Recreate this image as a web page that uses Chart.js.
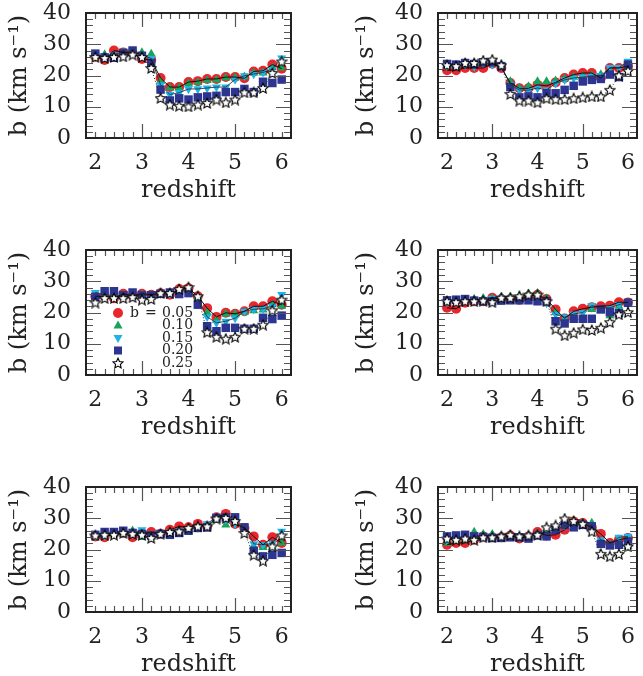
<!DOCTYPE html>
<html>
<head>
<meta charset="utf-8">
<script src="https://cdn.jsdelivr.net/npm/chart.js@4.4.1/dist/chart.umd.min.js"></script>
<style>
  body { margin: 0; background: #fff; width: 643px; height: 676px; position: relative; overflow: hidden; }
  canvas { position: absolute; }
</style>
</head>
<body>
<canvas id="p1" width="300" height="208" style="left:0px;top:0px"></canvas>
<canvas id="p2" width="296" height="208" style="left:347px;top:0px"></canvas>
<canvas id="p3" width="300" height="208" style="left:0px;top:237px"></canvas>
<canvas id="p4" width="296" height="208" style="left:347px;top:237px"></canvas>
<canvas id="p5" width="300" height="208" style="left:0px;top:474px"></canvas>
<canvas id="p6" width="296" height="208" style="left:347px;top:474px"></canvas>
<script>
// redshift bins shared by every panel
const redshift = [2.0, 2.2, 2.4, 2.6, 2.8, 3.0, 3.2, 3.4, 3.6, 3.8, 4.0, 4.2, 4.4, 4.6, 4.8, 5.0, 5.2, 5.4, 5.6, 5.8, 6.0]
const xTicks = [2, 3, 4, 5, 6]
const yTicks = [0, 10, 20, 30, 40]
const bValues = ['0.05', '0.10', '0.15', '0.20', '0.25']

// panel 1 (top left)
const p1_b05 = [26, 25, 28, 27.4, 27.2, 25.3, 25, 19.2, 16.3, 16.3, 17.9, 18.2, 18.9, 18.9, 19.5, 19.5, 19.1, 21.3, 21.5, 23.5, 22.2]
const p1_b10 = [26.3, 26.7, 26.5, 27, 27, 27.4, 26.9, 18.1, 16, 16, 17.4, 17.8, 18.4, 18.6, 19.2, 19.3, 19.6, 20.8, 20.8, 22.5, 22.4]
const p1_b15 = [26.5, 26, 26.5, 27.7, 27.8, 26.5, 25.5, 17, 13.9, 14.5, 15.7, 15.7, 16, 16.3, 16.3, 18.7, 19.9, 20.5, 21, 22, 25.6]
const p1_b20 = [27, 25.8, 25.7, 27.2, 28, 26.3, 24, 15.5, 12, 12.7, 12.3, 13, 13.3, 13.5, 14.7, 14.7, 15.7, 14.7, 18, 17.6, 18.7]
const p1_b25 = [25.9, 25.6, 25.9, 26.1, 26.7, 25.9, 22.4, 12.8, 10.7, 10.3, 10.1, 10.7, 11.2, 12.3, 11.4, 12.3, 14.6, 14.6, 16, 20.8, 24.5]

// panel 2 (top right)
const p2_b05 = [21.7, 21.7, 22.4, 22.4, 22.4, 23.8, 22.4, 17.6, 15.9, 15.9, 17, 16.7, 17.8, 19.2, 20.3, 20.8, 20.8, 19.2, 22.4, 22.4, 23]
const p2_b10 = [23.3, 23, 23.6, 23.6, 24.5, 24.2, 23.5, 18.1, 16, 16.5, 18.1, 18.1, 18.3, 19, 19.5, 19.8, 20, 20.3, 21.5, 19.5, 22]
const p2_b15 = [23, 23, 23.4, 22.8, 24, 23.5, 23, 17, 15.4, 15.3, 16, 15.4, 17.5, 18.6, 19.2, 19.5, 19.8, 20, 22.5, 22.5, 24.5]
const p2_b20 = [23.7, 23.5, 24, 23.7, 24.2, 24.2, 23, 16.3, 13, 13.3, 13, 14.3, 14.3, 15.4, 16.7, 18.1, 18.6, 18.9, 20.3, 19.5, 23.5]
const p2_b25 = [23.3, 23, 24, 24, 24.8, 25.1, 23.3, 14.1, 12, 12, 11.4, 12.7, 12.4, 12.4, 12.7, 13, 13.3, 13.3, 15.4, 20, 21.5]

// panel 3 (middle left, with legend)
const p3_b05 = [25.2, 25.2, 24.6, 26, 25.4, 26, 25.7, 26.2, 25.7, 27.5, 27.8, 25.2, 21.4, 18.6, 19.9, 19.6, 20.4, 22, 22, 23.6, 22.5]
const p3_b10 = [25.5, 25.5, 25, 25.5, 25.6, 25.8, 25.5, 26, 26, 27, 27.5, 25, 20, 17.5, 19.5, 19.5, 20, 20.6, 20.8, 22.5, 22]
const p3_b15 = [26.4, 25.5, 25.5, 25.2, 25.5, 25.6, 25.5, 26, 26, 27, 27.3, 24.5, 18.6, 16.7, 17.2, 18.2, 20.4, 21, 21.2, 22, 25.7]
const p3_b20 = [25, 26.8, 26.8, 25.5, 26.4, 25.5, 25.5, 26, 26.4, 25.9, 26.2, 22.5, 15.6, 14, 15.1, 15.1, 14.8, 14.8, 18.3, 17.9, 19]
const p3_b25 = [23.2, 24.6, 24.6, 24.6, 24.9, 24.1, 24.3, 26.2, 26.2, 27.5, 28.1, 25.2, 13.7, 12.2, 11.6, 12.2, 14.8, 14.8, 16.1, 20.7, 24.1]

// panel 4 (middle right)
const p4_b05 = [21.5, 21.2, 23.1, 23.6, 23.6, 24.7, 24.3, 24.3, 24.1, 25.2, 25.7, 24.3, 21, 18.1, 20.4, 21.2, 21.7, 22, 22.2, 23.3, 23.2]
const p4_b10 = [23.5, 23.8, 24, 24.3, 24.6, 24.5, 25, 25, 25.4, 26, 26.2, 24.5, 20, 18, 18.5, 18.5, 21, 20.6, 19, 22, 23]
const p4_b15 = [23.5, 23.5, 24, 24, 24, 24.5, 24.5, 24.5, 24.8, 24.8, 25, 23, 19.4, 18.5, 19.5, 20, 22.2, 21.5, 21.5, 22.5, 23.3]
const p4_b20 = [23.9, 24.1, 24.3, 23.8, 23.6, 23.6, 23.8, 23.9, 23.9, 23.9, 23.6, 23.6, 17.2, 16.5, 18, 18, 18, 21, 20.1, 19.8, 23.1]
const p4_b25 = [23.6, 23.3, 23.6, 23.6, 23.8, 23.3, 24.7, 24.7, 25.2, 25.7, 25.7, 23.6, 14.8, 12.7, 13.5, 14.6, 14.4, 15.1, 16.9, 19.4, 20.1]

// panel 5 (bottom left)
const p5_b05 = [24.2, 23.9, 25, 25.3, 23.9, 25, 25.6, 25, 26.3, 27.4, 27.1, 28.2, 27.4, 30.3, 31.4, 28.2, 26.9, 24.2, 21.5, 23.9, 22.1]
const p5_b10 = [24.5, 24.5, 24.8, 25, 26, 23.9, 24.5, 25, 25.5, 26, 26.5, 26.4, 27, 29.3, 27.9, 28.5, 26.5, 21, 20.7, 20.7, 22.1]
const p5_b15 = [24.5, 24.5, 25, 25.3, 25, 26.3, 25, 25, 25.5, 26, 26.5, 27, 28.2, 30.6, 29.5, 28.2, 27.4, 21.8, 21.5, 22, 25.8]
const p5_b20 = [24.7, 25.6, 25.6, 26, 25.3, 25, 24.5, 25, 24.7, 25.3, 26, 26.9, 27.1, 30.1, 30.3, 30.3, 27.1, 19.6, 17.8, 18.3, 18.9]
const p5_b25 = [24.5, 24.7, 24.7, 25.3, 25, 24.7, 23.7, 25, 25.6, 25.8, 26.9, 27.4, 27.4, 29.9, 30.1, 29.1, 25.3, 18.3, 16.4, 21, 24.5]

// panel 6 (bottom right)
const p6_b05 = [21.5, 22.1, 22.1, 23.1, 24.2, 23.9, 23.9, 24.5, 23.5, 24.2, 25.6, 24.5, 24.7, 26.3, 29, 28.5, 27, 25, 22.1, 23.1, 23.7]
const p6_b10 = [22, 23, 23.5, 25.6, 24.9, 24.9, 24.3, 24.4, 24.2, 24.5, 25, 26, 27.4, 27.5, 29.2, 28.5, 28.5, 22.5, 21.5, 22.5, 21]
const p6_b15 = [23, 23.3, 23.5, 23.8, 24.2, 24.2, 24, 24.2, 24, 24.3, 25, 25.5, 26.5, 27.5, 28.3, 28, 27.6, 23.1, 21.8, 23.9, 24.2]
const p6_b20 = [24.2, 24.5, 24.7, 24.2, 24, 23.7, 23.7, 23.9, 23.9, 23.5, 24.5, 24.2, 26.3, 27.9, 27.1, 27.9, 27.4, 21.8, 21.3, 21.5, 22.6]
const p6_b25 = [23.5, 23.1, 23.5, 23.1, 23.9, 23.9, 24.2, 24.7, 24.2, 24.5, 24.7, 27.1, 27.7, 29.9, 29.1, 28.2, 25.8, 18.6, 17.8, 18.6, 21]

const RED = '#e8262b'
const GREEN = '#17a35a'
const CYAN = '#1db4e8'
const NAVY = '#2c3590'
const FONT = 'DejaVu Serif'

// white five pointed star with a black edge, used as point image
function makeStar(size) {
  const c = document.createElement('canvas')
  c.width = size; c.height = size
  const g = c.getContext('2d')
  const m = size / 2
  g.beginPath()
  for (let i = 0; i < 10; i++) {
    const r = i % 2 ? m * 0.42 : m - 0.7
    const a = -Math.PI / 2 + i * Math.PI / 5
    g.lineTo(m + r * Math.cos(a), m + 0.6 + r * Math.sin(a))
  }
  g.closePath()
  g.fillStyle = '#fff'; g.fill()
  g.strokeStyle = '#000'; g.lineWidth = 1.15; g.stroke()
  return c
}
const starImg = makeStar(12)

function pts(values) {
  return values.map((v, i) => ({ x: redshift[i], y: v }))
}

// frame with inward ticks on all four sides
const framePlugin = {
  id: 'frame',
  afterDatasetsDraw(chart) {
    const { ctx, chartArea: a, scales: { x, y } } = chart
    ctx.save()
    ctx.strokeStyle = '#555'
    ctx.lineWidth = 1.2
    ctx.beginPath()
    for (let k = 10; k <= 30; k++) {
      const px = Math.round(x.getPixelForValue(k / 5)) + 0.5
      const len = (k === 15 || k === 25) ? 14 : 6
      ctx.moveTo(px, a.top); ctx.lineTo(px, a.top + len)
      ctx.moveTo(px, a.bottom); ctx.lineTo(px, a.bottom - len)
    }
    for (let v = 2; v < 40; v += 2) {
      const py = Math.round(y.getPixelForValue(v)) + 0.5
      const len = v % 10 === 0 ? 15 : 7
      ctx.moveTo(a.left, py); ctx.lineTo(a.left + len, py)
      ctx.moveTo(a.right, py); ctx.lineTo(a.right - len, py)
    }
    ctx.stroke()
    ctx.strokeStyle = '#222'
    ctx.lineWidth = 2
    ctx.strokeRect(a.left, a.top, a.right - a.left, a.bottom - a.top)
    ctx.restore()
  }
}

// key drawn inside the middle left panel
const keyPlugin = {
  id: 'key',
  afterDraw(chart, args, opts) {
    if (!opts.show) return
    const { ctx, chartArea: a } = chart
    ctx.save()
    ctx.font = '14px "' + FONT + '"'
    ctx.textBaseline = 'middle'
    const mx = a.left + 32
    for (let i = 0; i < 5; i++) {
      const my = a.top + 63 + i * 12.5
      ctx.beginPath()
      if (i === 0) {
        ctx.fillStyle = RED; ctx.arc(mx, my, 5, 0, Math.PI * 2); ctx.fill()
      } else if (i === 1) {
        ctx.fillStyle = GREEN; ctx.moveTo(mx, my - 5); ctx.lineTo(mx + 4.5, my + 3); ctx.lineTo(mx - 4.5, my + 3); ctx.fill()
      } else if (i === 2) {
        ctx.fillStyle = CYAN; ctx.moveTo(mx, my + 5); ctx.lineTo(mx + 4.5, my - 3); ctx.lineTo(mx - 4.5, my - 3); ctx.fill()
      } else if (i === 3) {
        ctx.fillStyle = NAVY; ctx.fillRect(mx - 4, my - 4, 8, 8)
      } else {
        ctx.drawImage(starImg, mx - 6, my - 6)
      }
      ctx.fillStyle = '#222'
      if (i === 0) {
        ctx.fillText('b', a.left + 44, my)
        ctx.fillText('=', a.left + 59, my)
      }
      ctx.fillText(bValues[i], a.left + 76, my)
    }
    ctx.restore()
  }
}

function makePanel(id, series, axisW, padRight, showKey) {
  const [s05, s10, s15, s20, s25] = series
  return new Chart(document.getElementById(id), {
    type: 'scatter',
    data: {
      datasets: [
        { label: 'b = 0.05', data: pts(s05), pointStyle: 'circle', pointRadius: 5, backgroundColor: RED, borderWidth: 0, order: 6 },
        { label: '0.10', data: pts(s10), pointStyle: 'triangle', pointRadius: 5.2, backgroundColor: GREEN, borderWidth: 0, order: 5 },
        { label: '0.15', data: pts(s15), pointStyle: 'triangle', rotation: 180, pointRadius: 5.2, backgroundColor: CYAN, borderWidth: 0, order: 4 },
        { label: '0.20', data: pts(s20), pointStyle: 'rect', pointRadius: 6, backgroundColor: NAVY, borderWidth: 0, order: 3 },
        { label: '0.25', data: pts(s25), pointStyle: starImg, order: 1 },
        { data: pts(s05), showLine: true, pointRadius: 0, borderColor: '#111', borderWidth: 1, order: 2 },
        { data: pts(s15), showLine: true, pointRadius: 0, borderColor: '#333', borderWidth: 0.9, order: 2 },
        { data: pts(s25), showLine: true, pointRadius: 0, borderColor: '#222', borderWidth: 1, borderDash: [1, 2], order: 2 }
      ]
    },
    options: {
      responsive: false,
      animation: false,
      layout: { padding: { top: 13, right: padRight, left: 0, bottom: 0 } },
      plugins: { legend: { display: false }, tooltip: { enabled: false }, key: { show: showKey } },
      scales: {
        x: {
          type: 'linear', min: 1.8, max: 6.2,
          afterBuildTicks: s => { s.ticks = xTicks.map(v => ({ value: v })) },
          afterFit: s => { s.height = 70; s.paddingLeft = 0; s.paddingRight = 0 },
          grid: { display: false, drawTicks: false }, border: { display: false },
          ticks: { color: '#222', padding: 12, autoSkip: false, maxRotation: 0, font: { family: FONT, size: 22 } },
          title: { display: true, text: 'redshift', color: '#222', padding: { bottom: 3 }, font: { family: FONT, size: 24 } }
        },
        y: {
          type: 'linear', min: 0, max: 40,
          afterBuildTicks: s => { s.ticks = yTicks.map(v => ({ value: v })) },
          afterFit: s => { s.width = axisW; s.paddingTop = 0; s.paddingBottom = 0 },
          grid: { display: false, drawTicks: false }, border: { display: false },
          ticks: { color: '#222', padding: 15, autoSkip: false, font: { family: FONT, size: 22 } },
          title: { display: true, text: 'b (km s\u207B\u00B9)', color: '#222', padding: { top: 5 }, font: { family: FONT, size: 24 } }
        }
      }
    },
    plugins: [framePlugin, keyPlugin]
  })
}

makePanel('p1', [p1_b05, p1_b10, p1_b15, p1_b20, p1_b25], 86, 9, false)
makePanel('p2', [p2_b05, p2_b10, p2_b15, p2_b20, p2_b25], 91, 1, false)
makePanel('p3', [p3_b05, p3_b10, p3_b15, p3_b20, p3_b25], 86, 9, true)
makePanel('p4', [p4_b05, p4_b10, p4_b15, p4_b20, p4_b25], 91, 1, false)
makePanel('p5', [p5_b05, p5_b10, p5_b15, p5_b20, p5_b25], 86, 9, false)
makePanel('p6', [p6_b05, p6_b10, p6_b15, p6_b20, p6_b25], 91, 1, false)
</script>
</body>
</html>
